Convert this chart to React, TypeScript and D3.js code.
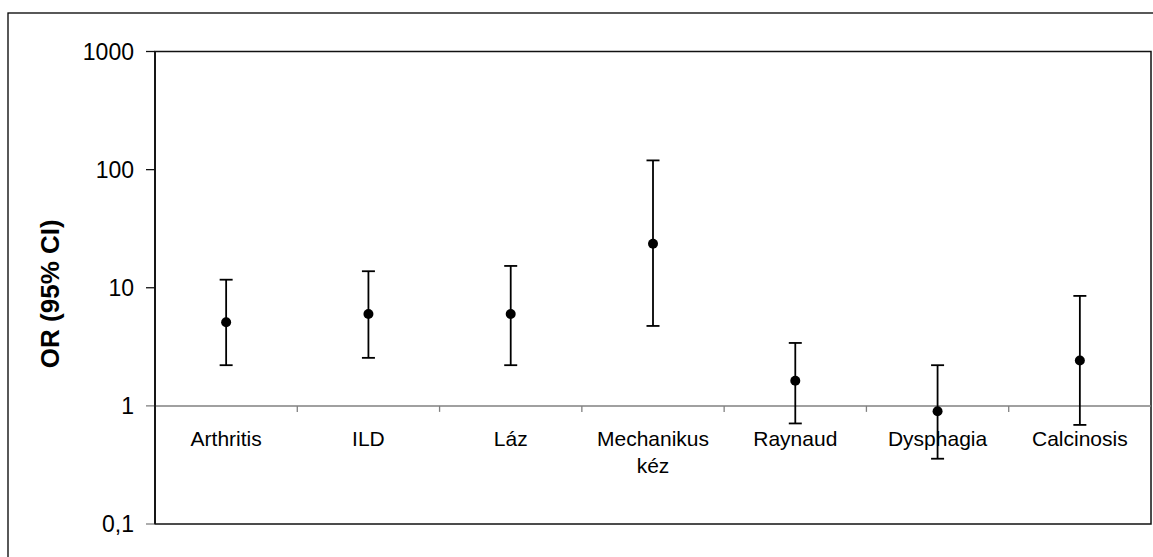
import { useEffect, useRef } from "react";
import * as d3 from "d3";

const categories = ["Arthritis", "ILD", "Láz", "Mechanikus kéz", "Raynaud", "Dysphagia", "Calcinosis"];
const orValues = [5.1, 6.0, 6.0, 23.6, 1.63, 0.9, 2.42];
const ciLower = [2.21, 2.55, 2.21, 4.75, 0.71, 0.357, 0.69];
const ciUpper = [11.7, 13.8, 15.3, 119.7, 3.41, 2.21, 8.53];
const yTicks = [0.1, 1, 10, 100, 1000];
const yTickLabels = ["0,1", "1", "10", "100", "1000"];

export default function App() {
  const ref = useRef<SVGSVGElement>(null);

  useEffect(() => {
    if (!ref.current) return;
    const svg = d3.select(ref.current);
    svg.selectAll("*").remove();

    const left = 155, right = 1151, top = 51.5, bottom = 524;
    const font = "'Liberation Sans', Arial, sans-serif";

    const x = d3.scaleBand<string>().domain(categories).range([left, right]).padding(0);
    const y = d3.scaleLog().domain([0.1, 1000]).range([bottom, top]);

    // outer chart frame
    svg.append("rect")
      .attr("x", 8).attr("y", 13)
      .attr("width", 1160).attr("height", 560)
      .attr("fill", "white").attr("stroke", "#000").attr("stroke-width", 1.3);

    // plot area
    svg.append("rect")
      .attr("x", left).attr("y", top)
      .attr("width", right - left).attr("height", bottom - top)
      .attr("fill", "white").attr("stroke", "#111").attr("stroke-width", 1.5);

    // y ticks + labels
    const yg = svg.append("g");
    yg.selectAll("line")
      .data(yTicks)
      .join("line")
      .attr("x1", left - 9).attr("x2", left)
      .attr("y1", (d) => y(d)).attr("y2", (d) => y(d))
      .attr("stroke", (d) => (d <= 1 ? "#808080" : "#111"))
      .attr("stroke-width", 1.3);
    yg.selectAll("text")
      .data(yTicks)
      .join("text")
      .attr("x", 134)
      .attr("y", (d) => y(d))
      .attr("dy", "0.35em")
      .attr("text-anchor", "end")
      .style("font-family", font)
      .style("font-size", "23px")
      .text((_, i) => yTickLabels[i]);

    // category axis at OR = 1
    svg.append("line")
      .attr("x1", left).attr("x2", right)
      .attr("y1", y(1)).attr("y2", y(1))
      .attr("stroke", "#808080").attr("stroke-width", 1.5);
    svg.append("g")
      .selectAll("line")
      .data(categories.slice(1))
      .join("line")
      .attr("x1", (d) => x(d)!).attr("x2", (d) => x(d)!)
      .attr("y1", y(1)).attr("y2", y(1) + 6)
      .attr("stroke", "#808080").attr("stroke-width", 1.3);

    // left axis line drawn over
    svg.append("line")
      .attr("x1", left).attr("x2", left)
      .attr("y1", top).attr("y2", bottom)
      .attr("stroke", "#111").attr("stroke-width", 1.8);

    // category labels
    const lab = svg.append("g")
      .selectAll("text")
      .data(categories)
      .join("text")
      .attr("x", (d) => x(d)! + x.bandwidth() / 2)
      .attr("y", 446)
      .attr("text-anchor", "middle")
      .style("font-family", font)
      .style("font-size", "21px");
    lab.each(function (d) {
      const words = d.split(" ");
      const t = d3.select(this);
      words.forEach((w, i) => {
        t.append("tspan")
          .attr("x", x(d)! + x.bandwidth() / 2)
          .attr("dy", i === 0 ? 0 : 27)
          .text(w);
      });
    });

    // error bars
    const cx = (i: number) => x(categories[i])! + x.bandwidth() / 2;
    const eb = svg.append("g").attr("stroke", "#000").attr("stroke-width", 1.8);
    categories.forEach((_, i) => {
      eb.append("line")
        .attr("x1", cx(i)).attr("x2", cx(i))
        .attr("y1", y(ciLower[i])).attr("y2", y(ciUpper[i]));
      [ciLower[i], ciUpper[i]].forEach((v) => {
        eb.append("line")
          .attr("x1", cx(i) - 6.5).attr("x2", cx(i) + 6.5)
          .attr("y1", y(v)).attr("y2", y(v));
      });
    });

    svg.append("g")
      .selectAll("circle")
      .data(orValues)
      .join("circle")
      .attr("cx", (_, i) => cx(i))
      .attr("cy", (d) => y(d))
      .attr("r", 5)
      .attr("fill", "#000");

    // y title
    svg.append("text")
      .attr("transform", `translate(59,${(top + bottom) / 2 + 6}) rotate(-90)`)
      .attr("text-anchor", "middle")
      .style("font-family", font)
      .style("font-size", "26px")
      .style("font-weight", "bold")
      .text("OR (95% CI)");
  }, []);

  return (
    <svg
      ref={ref}
      width={1153}
      height={557}
      style={{ position: "absolute", left: 0, top: 0, background: "white" }}
    />
  );
}
